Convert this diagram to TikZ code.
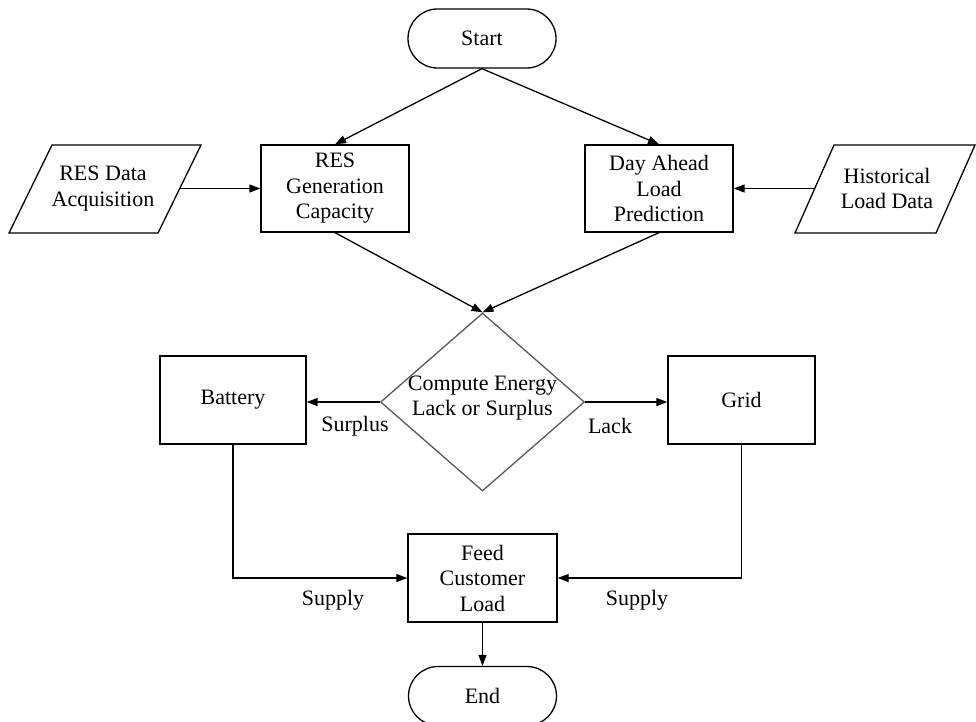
\documentclass[tikz,border=0pt]{standalone}
\usepackage{fontspec}
\setmainfont{Liberation Serif}
\usetikzlibrary{shapes.geometric,shapes.misc,arrows.meta}
\begin{document}
\begin{tikzpicture}[x=1pt,y=-1pt,
  font=\fontsize{22}{25.5}\selectfont,
  line width=1.3pt,
  box/.style={draw, minimum width=148, minimum height=87, align=center, inner sep=0pt},
  term/.style={draw, rounded rectangle, minimum width=148, minimum height=59, inner sep=0pt},
  decide/.style={draw=black!65, diamond, minimum width=204, minimum height=178, inner sep=0pt},
  arr/.style={-{Triangle[length=11pt,width=8pt]}},
  lbl/.style={inner sep=0pt, align=center}]
\useasboundingbox (0,0) rectangle (976,721);

% terminals
\node[term] (start) at (482,38.5) {Start};
\node[term] (end) at (482.5,696) {End};

% data inputs (parallelograms)
\draw (52,145) -- (201,145) -- (158,233) -- (9,233) -- cycle;
\node[lbl] (resd) at (103,188.5) {RES Data\\Acquisition};
\coordinate (resd-out) at (180,188.5);
\draw (834,145) -- (975,145) -- (936,233) -- (795,233) -- cycle;
\node[lbl] (hist) at (887,188.5) {Historical\\Load Data};
\coordinate (hist-out) at (815,188.5);

% first processing steps
\node[box] (res) at (335,188.5) {RES\\Generation\\Capacity};
\node[box] (day) at (659,188.5) {Day Ahead\\Load\\Prediction};

% decision
\node[decide] (dec) at (482.5,402) {};
\node[lbl] (dectext) at (482.5,398) {Compute Energy\\Lack or Surplus};

% sinks
\node[box, minimum width=146, minimum height=88] (bat) at (233,400) {Battery};
\node[box, minimum width=147, minimum height=88] (grid) at (741.5,400) {Grid};
\node[box, minimum width=149, minimum height=88] (feed) at (482.5,578) {Feed\\Customer\\Load};

% connectors
\draw[arr] (start.south) -- (res.north);
\draw[arr] (start.south) -- (day.north);
\draw[arr] (resd-out) -- (resd-out -| res.west);
\draw[arr] (hist-out) -- (hist-out -| day.east);
\draw[arr] (res.south) -- (dec.north);
\draw[arr] (day.south) -- (dec.north);
\draw[arr] (dec.west) -- (dec.west -| bat.east);
\draw[arr] (dec.east) -- (dec.east -| grid.west);
\draw[arr] (bat.south) |- (feed.west);
\draw[arr] (grid.south) |- (feed.east);
\draw[arr] (feed.south) -- (end.north);

% branch labels
\node[lbl] (lsur) at (355,426) {Surplus};
\node[lbl] (llack) at (610,426) {Lack};
\node[lbl] (lsup1) at (333,600) {Supply};
\node[lbl] (lsup2) at (637,600) {Supply};
\end{tikzpicture}
\end{document}
